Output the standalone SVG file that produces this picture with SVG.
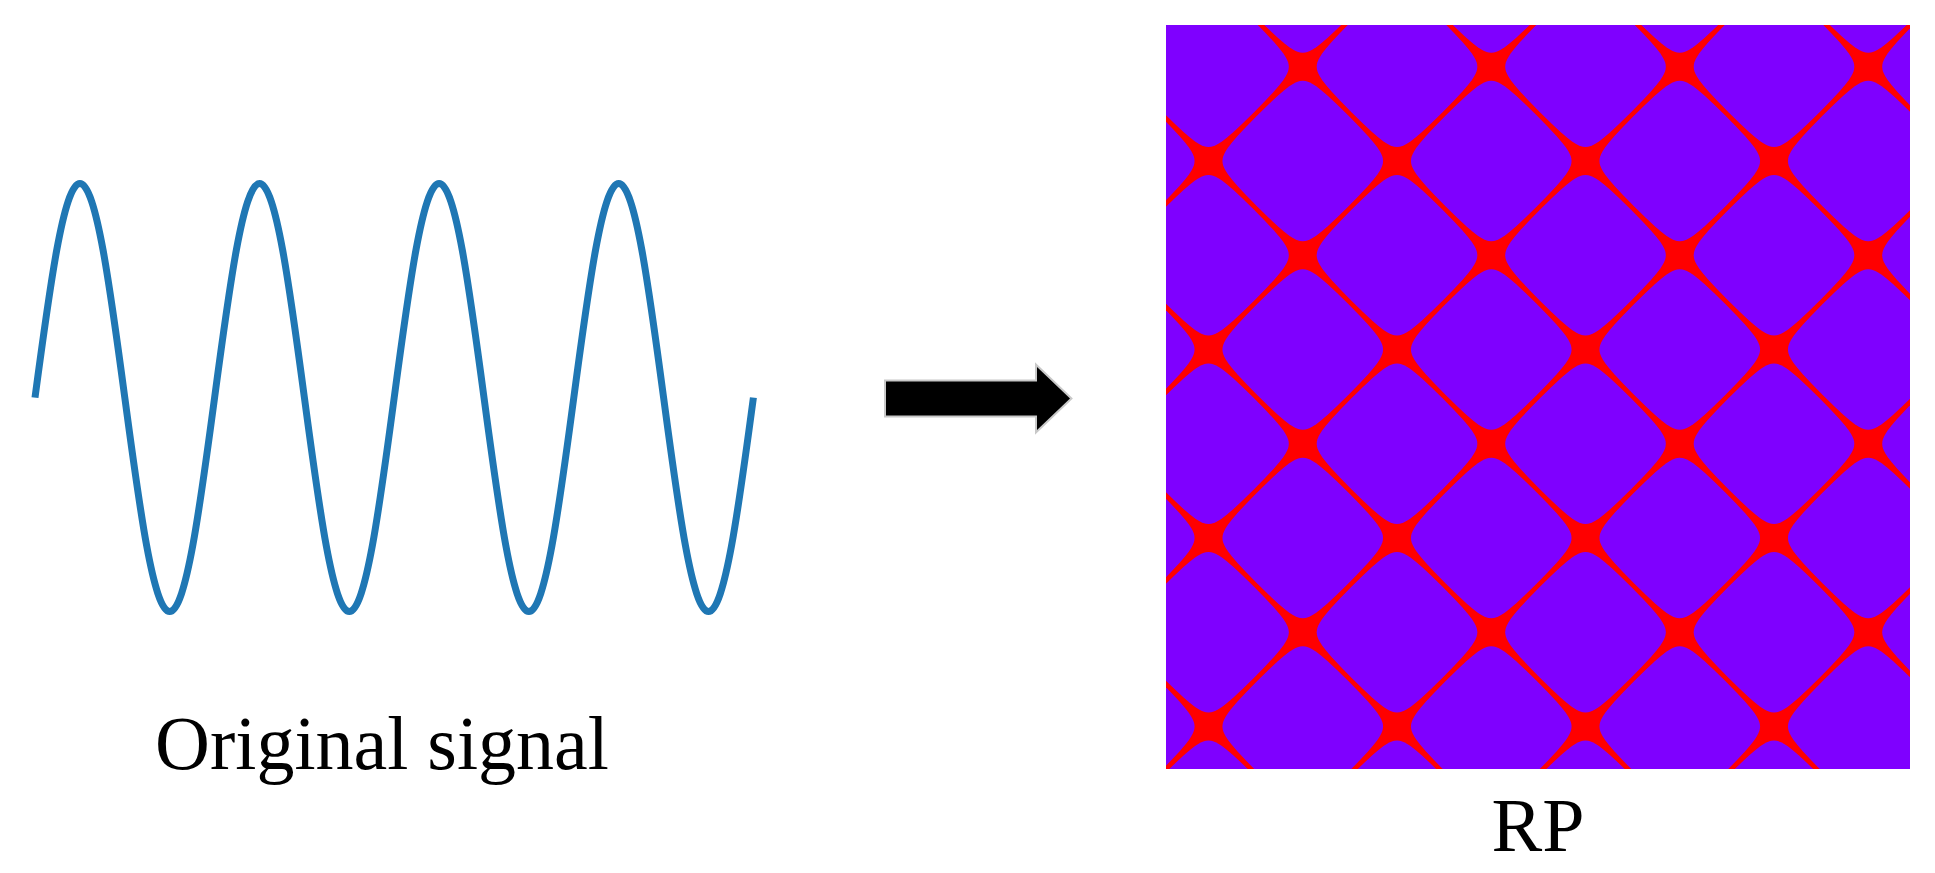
<svg xmlns="http://www.w3.org/2000/svg" xmlns:xlink="http://www.w3.org/1999/xlink" width="1935" height="873" viewBox="0 0 1935 873">
<style>
.lbl{font-family:"Liberation Serif","Times New Roman",serif;font-size:76px;fill:#000;text-anchor:middle}
.wave{fill:none;stroke:#1f77b4;stroke-width:7;stroke-linejoin:round}
.cell{fill:#7f00ff}
</style>
<defs>
<path id="cell" class="cell" d="M45.54,-45.53 L56.54,-34.29 L65.22,-24.97 L70.78,-18.53 L74.70,-13.45 L77.09,-9.84 L78.55,-7.10 L79.57,-4.52 L80.06,-2.61 L80.31,0 L80.06,2.61 L79.57,4.52 L78.55,7.10 L77.09,9.84 L74.70,13.45 L70.78,18.53 L65.22,24.97 L56.54,34.29 L45.54,45.53 L34.29,56.54 L24.97,65.22 L18.53,70.78 L13.45,74.70 L9.84,77.09 L7.10,78.55 L4.52,79.57 L2.61,80.06 L0,80.31 L-2.61,80.06 L-4.52,79.57 L-7.10,78.55 L-9.84,77.09 L-13.45,74.70 L-18.53,70.78 L-24.97,65.22 L-34.29,56.54 L-45.53,45.54 L-56.54,34.29 L-65.22,24.97 L-70.78,18.53 L-74.70,13.45 L-77.09,9.84 L-78.55,7.10 L-79.57,4.52 L-80.06,2.61 L-80.31,0 L-80.06,-2.61 L-79.57,-4.52 L-78.55,-7.10 L-77.09,-9.84 L-74.70,-13.45 L-70.78,-18.53 L-65.22,-24.97 L-56.54,-34.29 L-45.54,-45.53 L-34.29,-56.54 L-24.97,-65.22 L-18.53,-70.78 L-13.45,-74.70 L-9.84,-77.09 L-7.10,-78.55 L-4.52,-79.57 L-2.61,-80.06 L0,-80.31 L2.61,-80.06 L4.52,-79.57 L7.10,-78.55 L9.84,-77.09 L13.45,-74.70 L18.53,-70.78 L24.97,-65.22 L34.29,-56.54 Z"/>
<clipPath id="rpclip"><rect x="1166" y="25" width="744" height="744"/></clipPath>
</defs>
<rect width="1935" height="873" fill="#fff"/>

<g id="signal">
<path class="wave" d="M35,397.6 C49.64,287.97 63.65,183.6 79.9,183.6 S110.16,287.97 124.8,397.6 S153.45,611.6 169.7,611.6 S199.96,507.23 214.6,397.6 S243.25,183.6 259.5,183.6 S289.76,287.97 304.4,397.6 S333.05,611.6 349.3,611.6 S379.56,507.23 394.2,397.6 S422.85,183.6 439.1,183.6 S469.36,287.97 484.0,397.6 S512.65,611.6 528.9,611.6 S559.16,507.23 573.8,397.6 S602.45,183.6 618.7,183.6 S648.96,287.97 663.6,397.6 S692.25,611.6 708.5,611.6 S738.76,507.23 753.4,397.6"/>
<text class="lbl" x="382" y="769">Original signal</text>
</g>

<g id="rp">
<g clip-path="url(#rpclip)">
<rect x="1166" y="25" width="744" height="744" fill="#ff0000"/>
<g><use xlink:href="#cell" x="1114.25" y="-27.5"/><use xlink:href="#cell" x="1302.75" y="-27.5"/><use xlink:href="#cell" x="1491.25" y="-27.5"/><use xlink:href="#cell" x="1679.75" y="-27.5"/><use xlink:href="#cell" x="1868.25" y="-27.5"/></g>
<g><use xlink:href="#cell" x="1208.5" y="66.75"/><use xlink:href="#cell" x="1397" y="66.75"/><use xlink:href="#cell" x="1585.5" y="66.75"/><use xlink:href="#cell" x="1774" y="66.75"/><use xlink:href="#cell" x="1962.5" y="66.75"/></g>
<g><use xlink:href="#cell" x="1114.25" y="161"/><use xlink:href="#cell" x="1302.75" y="161"/><use xlink:href="#cell" x="1491.25" y="161"/><use xlink:href="#cell" x="1679.75" y="161"/><use xlink:href="#cell" x="1868.25" y="161"/></g>
<g><use xlink:href="#cell" x="1208.5" y="255.25"/><use xlink:href="#cell" x="1397" y="255.25"/><use xlink:href="#cell" x="1585.5" y="255.25"/><use xlink:href="#cell" x="1774" y="255.25"/><use xlink:href="#cell" x="1962.5" y="255.25"/></g>
<g><use xlink:href="#cell" x="1114.25" y="349.5"/><use xlink:href="#cell" x="1302.75" y="349.5"/><use xlink:href="#cell" x="1491.25" y="349.5"/><use xlink:href="#cell" x="1679.75" y="349.5"/><use xlink:href="#cell" x="1868.25" y="349.5"/></g>
<g><use xlink:href="#cell" x="1208.5" y="443.75"/><use xlink:href="#cell" x="1397" y="443.75"/><use xlink:href="#cell" x="1585.5" y="443.75"/><use xlink:href="#cell" x="1774" y="443.75"/><use xlink:href="#cell" x="1962.5" y="443.75"/></g>
<g><use xlink:href="#cell" x="1114.25" y="538"/><use xlink:href="#cell" x="1302.75" y="538"/><use xlink:href="#cell" x="1491.25" y="538"/><use xlink:href="#cell" x="1679.75" y="538"/><use xlink:href="#cell" x="1868.25" y="538"/></g>
<g><use xlink:href="#cell" x="1208.5" y="632.25"/><use xlink:href="#cell" x="1397" y="632.25"/><use xlink:href="#cell" x="1585.5" y="632.25"/><use xlink:href="#cell" x="1774" y="632.25"/><use xlink:href="#cell" x="1962.5" y="632.25"/></g>
<g><use xlink:href="#cell" x="1114.25" y="726.5"/><use xlink:href="#cell" x="1302.75" y="726.5"/><use xlink:href="#cell" x="1491.25" y="726.5"/><use xlink:href="#cell" x="1679.75" y="726.5"/><use xlink:href="#cell" x="1868.25" y="726.5"/></g>
<g><use xlink:href="#cell" x="1208.5" y="820.75"/><use xlink:href="#cell" x="1397" y="820.75"/><use xlink:href="#cell" x="1585.5" y="820.75"/><use xlink:href="#cell" x="1774" y="820.75"/><use xlink:href="#cell" x="1962.5" y="820.75"/></g>
</g>
<text class="lbl" x="1538" y="851">RP</text>
</g>

<g id="connectors">
<polygon points="886,381.5 1037,381.5 1037,367 1070,398.5 1037,430 1037,415.5 886,415.5" fill="#000" stroke="#c8c8c8" stroke-width="4" stroke-linejoin="miter" paint-order="stroke"/>
</g>
</svg>
